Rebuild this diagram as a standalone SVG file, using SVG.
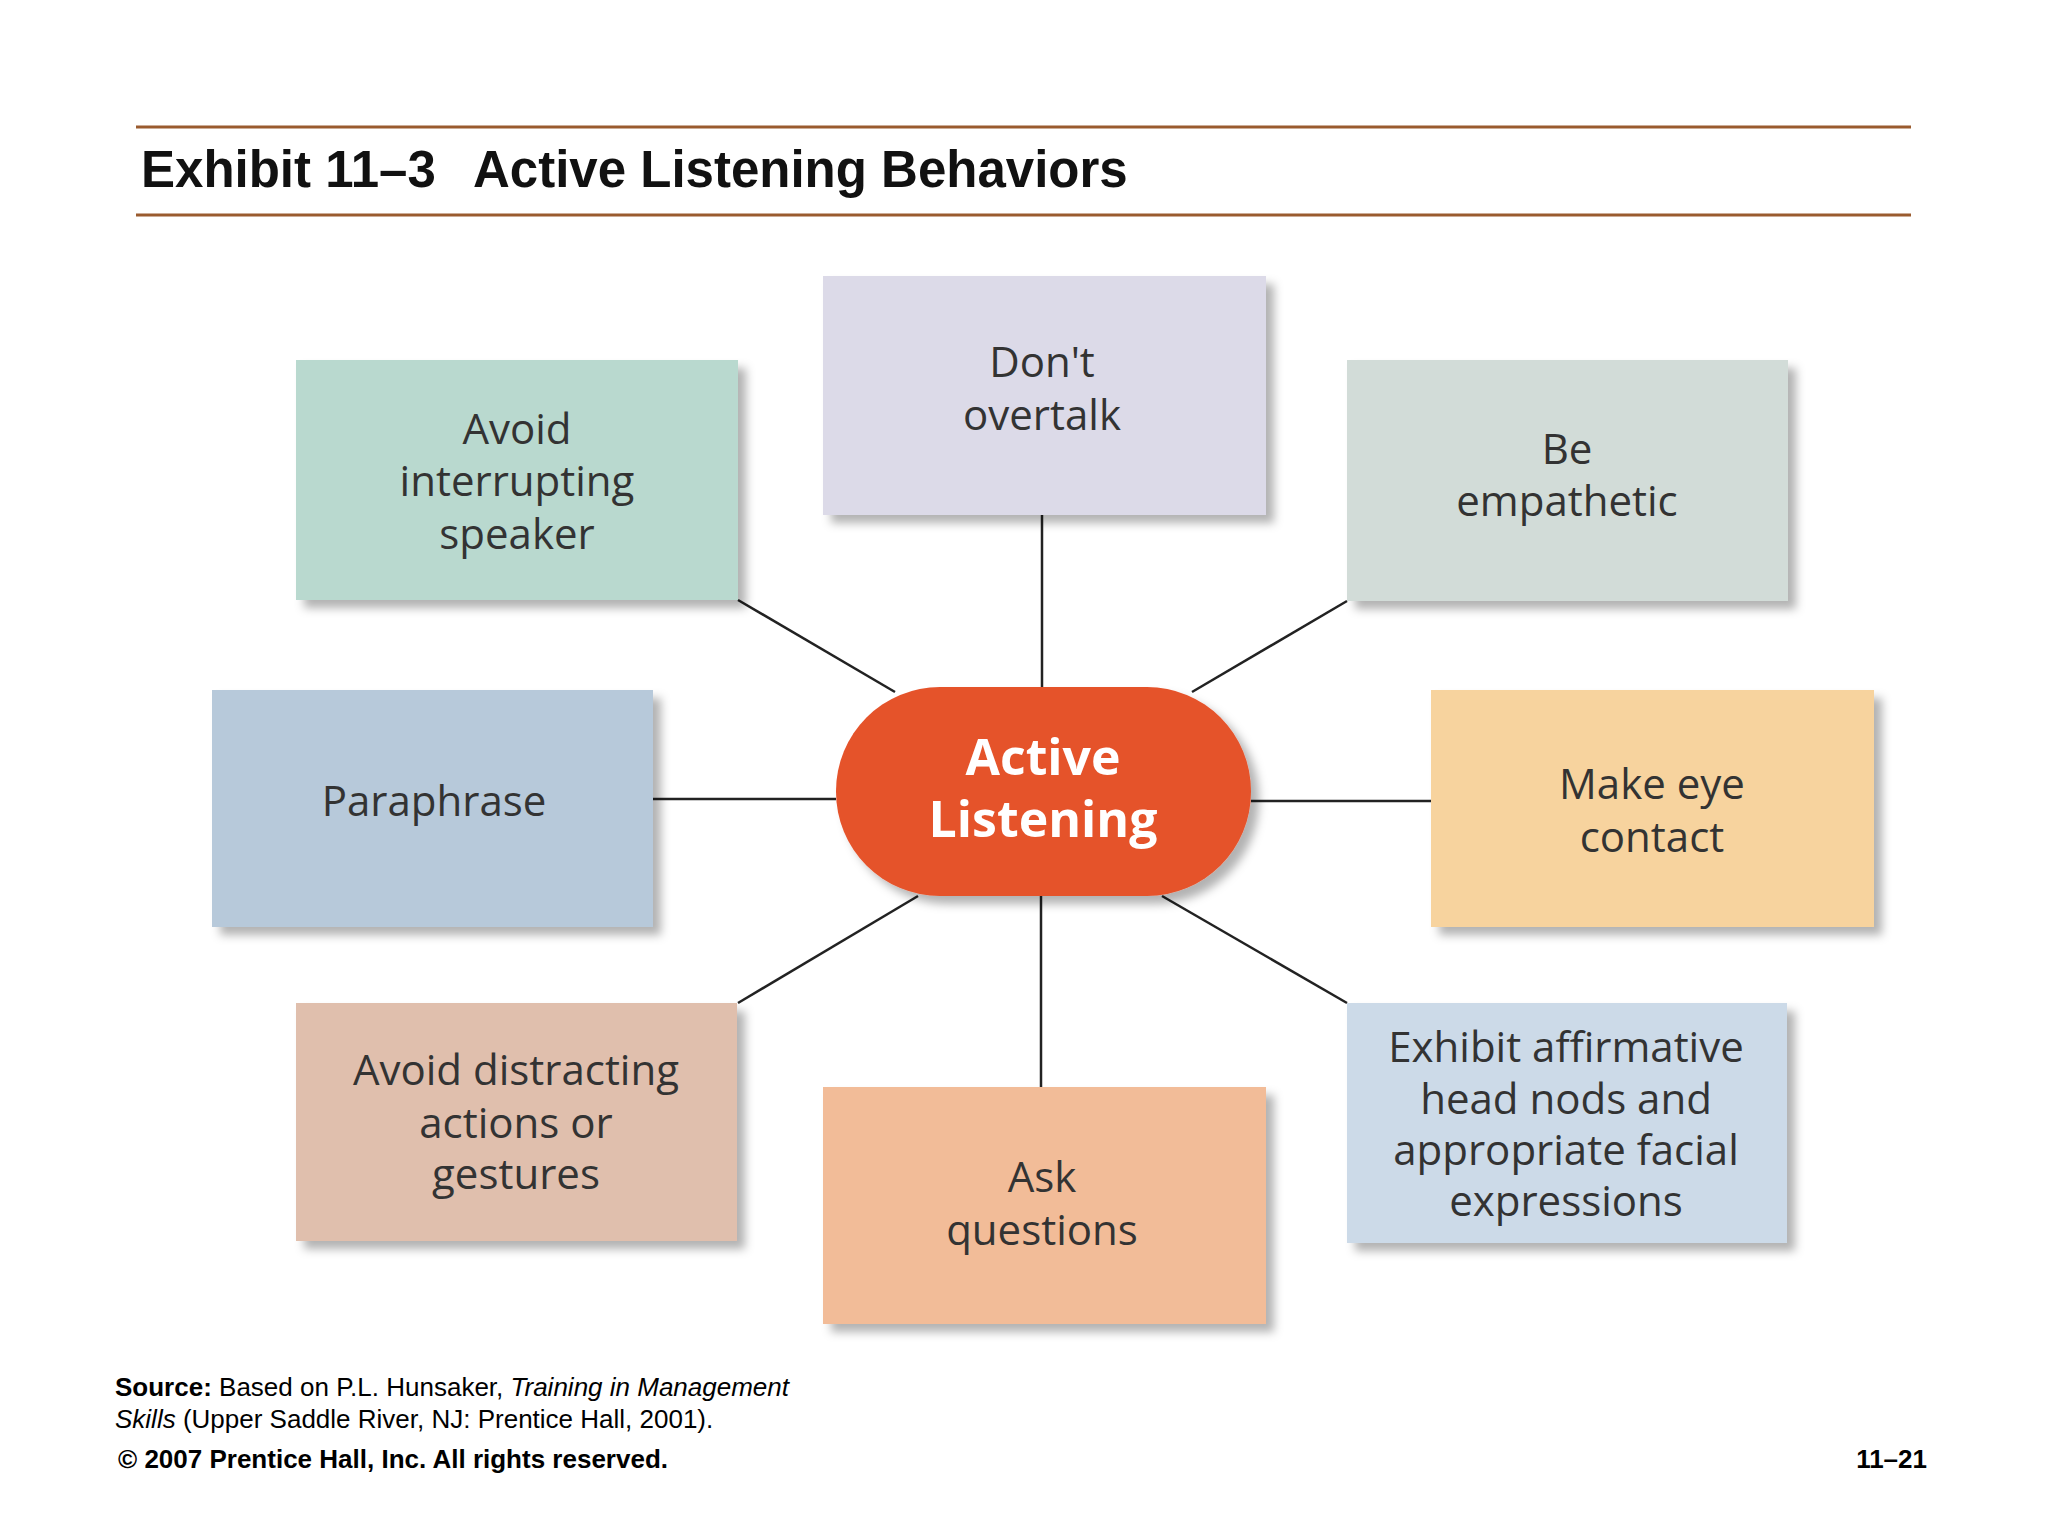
<svg xmlns="http://www.w3.org/2000/svg" width="2048" height="1536" viewBox="0 0 2048 1536">
<style>
.box{filter:url(#sh)}
.t{font-family:"Open Sans","DejaVu Sans",sans-serif;font-size:42px;fill:#333;text-anchor:middle}
.c{stroke:#222;stroke-width:2.5;fill:none}
.f{font-family:"Liberation Sans",Arial,sans-serif;font-size:26px;fill:#000}
</style>
<defs>
<filter id="sh" x="-10%" y="-10%" width="130%" height="130%"><feDropShadow dx="8" dy="8" stdDeviation="5" flood-color="#000" flood-opacity="0.3"/></filter>
</defs>
<rect width="2048" height="1536" fill="#fff"/>
<line x1="136" y1="127" x2="1911" y2="127" stroke="#9a5b2e" stroke-width="3"/>
<line x1="136" y1="215" x2="1911" y2="215" stroke="#9a5b2e" stroke-width="3"/>
<text x="141" y="187" font-family="Liberation Sans,Arial,sans-serif" font-weight="bold" font-size="51" fill="#111">Exhibit 11–3<tspan x="473">Active Listening Behaviors</tspan></text>
<g id="connectors">
<line class="c" x1="1042" y1="515" x2="1042" y2="687"/>
<line class="c" x1="738" y1="600" x2="895" y2="692"/>
<line class="c" x1="1347" y1="601" x2="1192" y2="692"/>
<line class="c" x1="653" y1="799" x2="836" y2="799" stroke-width="4"/>
<line class="c" x1="1251" y1="801" x2="1431" y2="801" stroke-width="3.5"/>
<line class="c" x1="738" y1="1003" x2="918" y2="896"/>
<line class="c" x1="1041" y1="896" x2="1041" y2="1087" stroke-width="3"/>
<line class="c" x1="1162" y1="896" x2="1347" y2="1003"/>
</g>
<g id="n1"><rect class="box" x="296" y="360" width="442" height="240" fill="#b9d9cf"/><text class="t" x="517" y="444">Avoid</text><text class="t" x="517" y="496">interrupting</text><text class="t" x="517" y="549">speaker</text></g>
<g id="n2"><rect class="box" x="823" y="276" width="443" height="239" fill="#dcdae8"/><text class="t" x="1042" y="377">Don't</text><text class="t" x="1042" y="430">overtalk</text></g>
<g id="n3"><rect class="box" x="1347" y="360" width="441" height="241" fill="#d2dcd8"/><text class="t" x="1567" y="464">Be</text><text class="t" x="1567" y="516">empathetic</text></g>
<g id="n4"><rect class="box" x="212" y="690" width="441" height="237" fill="#b7c9da"/><text class="t" x="434" y="816">Paraphrase</text></g>
<g id="n5"><rect class="box" x="1431" y="690" width="443" height="237" fill="#f7d39e"/><text class="t" x="1652" y="799">Make eye</text><text class="t" x="1652" y="852">contact</text></g>
<g id="n6"><rect class="box" x="296" y="1003" width="441" height="238" fill="#e0bfad"/><text class="t" x="516" y="1085">Avoid distracting</text><text class="t" x="516" y="1138">actions or</text><text class="t" x="516" y="1189">gestures</text></g>
<g id="n7"><rect class="box" x="823" y="1087" width="443" height="237" fill="#f2bc98"/><text class="t" x="1042" y="1192">Ask</text><text class="t" x="1042" y="1245">questions</text></g>
<g id="n8"><rect class="box" x="1347" y="1003" width="440" height="240" fill="#ccdae8"/><text class="t" x="1566" y="1062">Exhibit affirmative</text><text class="t" x="1566" y="1114">head nods and</text><text class="t" x="1566" y="1165">appropriate facial</text><text class="t" x="1566" y="1216">expressions</text></g>
<g id="center"><rect class="box" x="836" y="687" width="415" height="209" rx="104" fill="#e5532c"/><text x="1043" y="775" text-anchor="middle" font-family="Open Sans,DejaVu Sans,sans-serif" font-weight="bold" font-size="50" fill="#fff">Active</text><text x="1043" y="837" text-anchor="middle" font-family="Open Sans,DejaVu Sans,sans-serif" font-weight="bold" font-size="50" fill="#fff">Listening</text></g>
<text class="f" x="115" y="1396"><tspan font-weight="bold">Source:</tspan> Based on P.L. Hunsaker, <tspan font-style="italic">Training in Management</tspan></text>
<text class="f" x="115" y="1428"><tspan font-style="italic">Skills</tspan> (Upper Saddle River, NJ: Prentice Hall, 2001).</text>
<text class="f" x="118" y="1468" font-weight="bold" font-size="32">© 2007 Prentice Hall, Inc. All rights reserved.</text>
<text class="f" x="1927" y="1468" font-weight="bold" font-size="30" text-anchor="end">11–21</text>
</svg>
